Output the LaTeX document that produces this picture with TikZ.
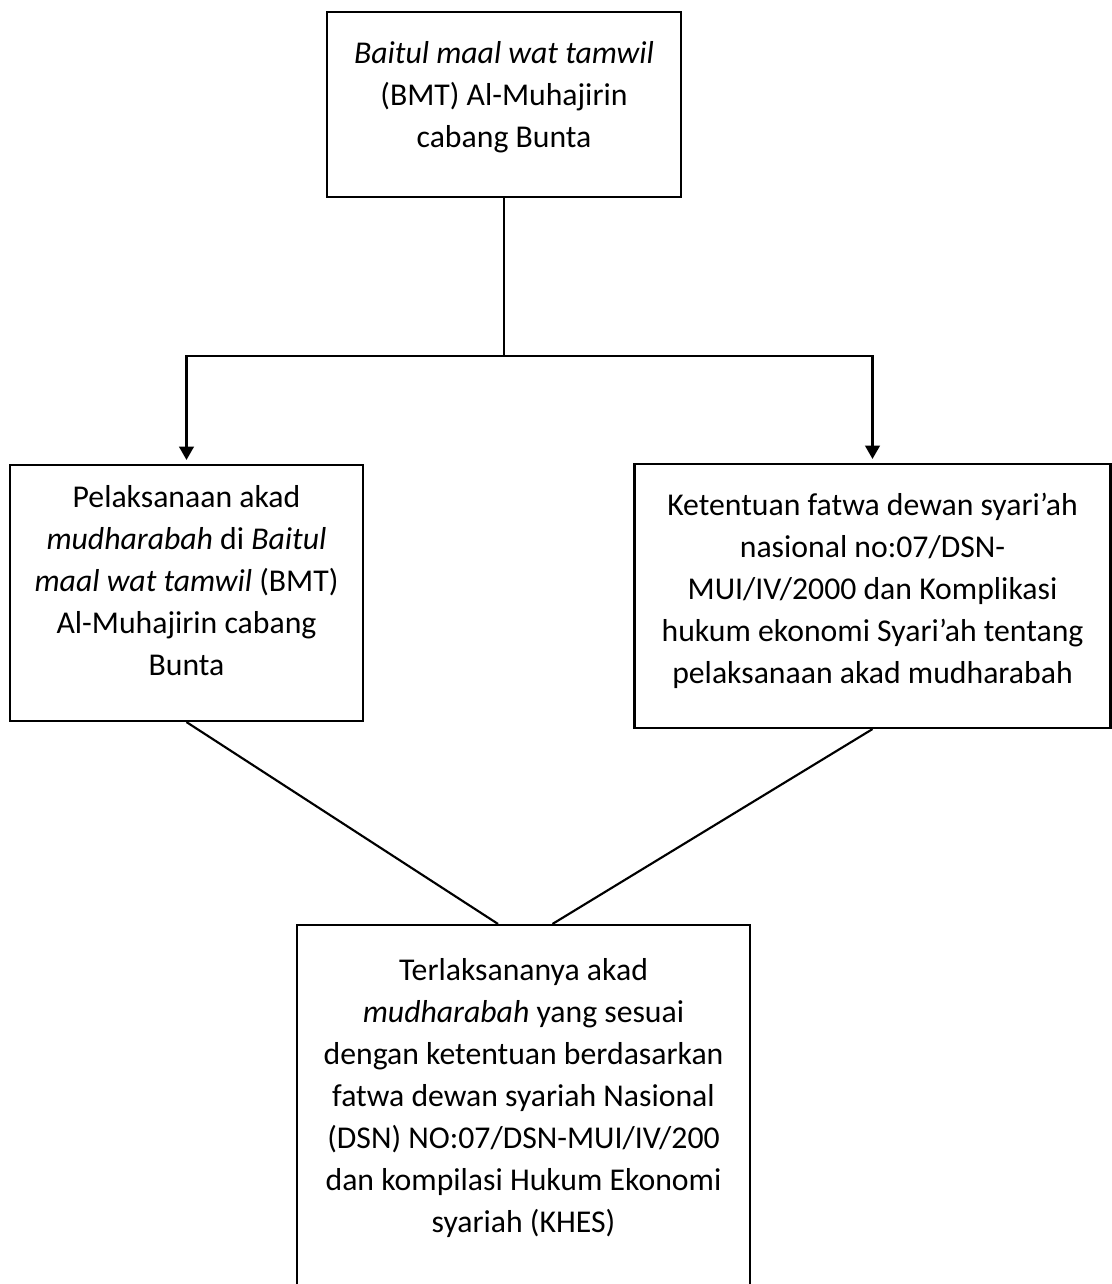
\documentclass[tikz,border=0pt]{standalone}
\usepackage{fontspec}
\setmainfont{Carlito}
\usetikzlibrary{arrows.meta,calc}
\begin{document}
\begin{tikzpicture}[x=0.75pt,y=-0.75pt,
  box/.style={draw, line width=1.6pt, inner sep=0pt},
  txt/.style={align=center, anchor=north, inner sep=0pt, font=\fontsize{23.8pt}{31.5pt}\selectfont},
  conn/.style={line width=1.6pt},
  arr/.style={line width=1.6pt, -{Triangle[width=11pt,length=10pt]}, shorten >=3pt}]
\clip (0,0) rectangle (1112,1284);
\node[box, minimum width=354*0.75pt, minimum height=185*0.75pt] (top) at (504,104.5) {};
\node[box, minimum width=353*0.75pt, minimum height=256*0.75pt] (lft) at (186.5,593) {};
\node[box, minimum width=476*0.75pt, minimum height=264*0.75pt] (rgt) at (872.5,596) {};
\node[box, minimum width=453*0.75pt, minimum height=400*0.75pt] (bot) at (523.5,1125) {};

\node[txt] (toptxt) at ($(top.north)+(0,22.6)$) {\strut\textit{Baitul maal wat tamwil}\\(BMT) Al-Muhajirin\\cabang Bunta};
\node[txt] (lfttxt) at ($(lft.north)+(0,13.6)$) {\strut Pelaksanaan akad\\\textit{mudharabah} di \textit{Baitul}\\\textit{maal wat tamwil} (BMT)\\Al-Muhajirin cabang\\Bunta};
\node[txt] (rgttxt) at ($(rgt.north)+(0,22.6)$) {\strut Ketentuan fatwa dewan syari’ah\\nasional no:07/DSN-\\MUI/IV/2000 dan Komplikasi\\hukum ekonomi Syari’ah tentang\\pelaksanaan akad mudharabah};
\node[txt] (bottxt) at ($(bot.north)+(0,27.1)$) {\strut Terlaksananya akad\\\textit{mudharabah} yang sesuai\\dengan ketentuan berdasarkan\\fatwa dewan syariah Nasional\\(DSN) NO:07/DSN-MUI/IV/200\\dan kompilasi Hukum Ekonomi\\syariah (KHES)};

\coordinate (j) at ($(top.south)+(0,158)$);
\draw[conn] (top.south) -- (j);
\draw[arr] (j) -| (lft.north);
\draw[arr] (j) -| (rgt.north);
\draw[conn] (lft.south) -- ($(bot.north)+(-25.5,0)$);
\draw[conn] (rgt.south) -- ($(bot.north)+(29,0)$);
\end{tikzpicture}
\end{document}
